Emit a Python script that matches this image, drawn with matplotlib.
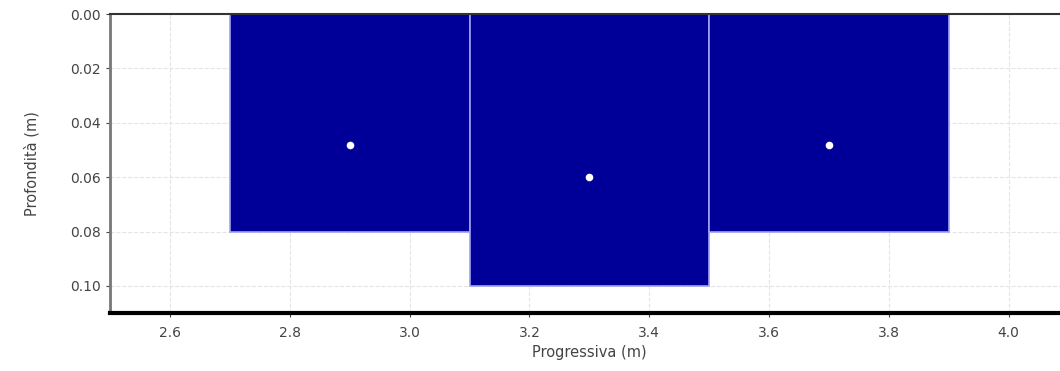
import matplotlib.pyplot as plt

# dati dei conci (progressiva inizio/fine, profondità) e punti di misura
x_start = [2.7, 3.1, 3.5]
x_end = [3.1, 3.5, 3.9]
depth = [0.08, 0.10, 0.08]
pt_x = [2.9, 3.3, 3.7]
pt_y = [0.048, 0.060, 0.048]

x_ticks = [2.6, 2.8, 3.0, 3.2, 3.4, 3.6, 3.8, 4.0]
y_ticks = [0.00, 0.02, 0.04, 0.06, 0.08, 0.10]

fig = plt.figure(figsize=(10.6, 3.71), dpi=100)
ax = fig.add_axes([0.104, 0.156, 0.904, 0.806])

widths = [e - s for s, e in zip(x_start, x_end)]
ax.bar(x_start, depth, width=widths, bottom=0, align='edge',
       color='#000099', edgecolor='#a0a0f5', linewidth=1.2, zorder=2)
ax.scatter(pt_x, pt_y, s=30, color='white', zorder=3, linewidths=0)

ax.set_xlim(2.5, 4.1)
ax.set_ylim(0.11, 0.0)
ax.set_xticks(x_ticks)
ax.set_yticks(y_ticks)
ax.set_xticklabels([f'{t:.1f}' for t in x_ticks])
ax.set_yticklabels([f'{t:.2f}' for t in y_ticks])

ax.grid(True, color='#e4e4e4', linestyle='--', linewidth=0.8, zorder=0)
ax.set_axisbelow(True)

ax.spines['left'].set_color('#777777')
ax.spines['left'].set_linewidth(2)
ax.spines['bottom'].set_color('black')
ax.spines['bottom'].set_linewidth(3)
ax.spines['top'].set_color('#333333')
ax.spines['top'].set_linewidth(1.5)
ax.spines['right'].set_visible(False)

ax.tick_params(labelsize=10, colors='#444444', length=3, width=0.8)
ax.tick_params(axis='x', pad=6)
ax.set_xlabel('Progressiva (m)', fontsize=10.5, color='#444444', labelpad=4)
ax.set_ylabel('Profondità (m)', fontsize=10.5, color='#444444', labelpad=22)

fig.savefig('out.png', dpi=100)
